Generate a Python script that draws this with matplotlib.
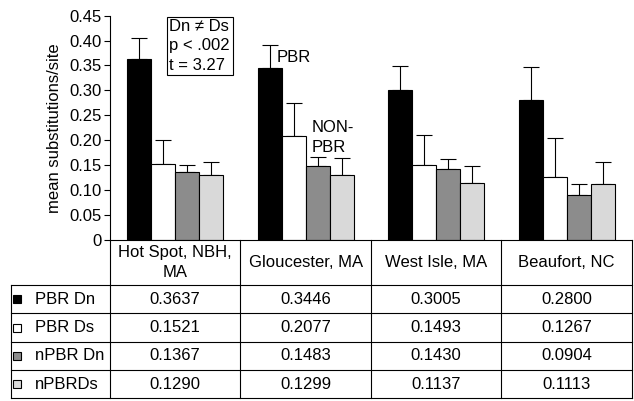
import matplotlib
matplotlib.use('Agg')
import matplotlib.pyplot as plt
import numpy as np
from matplotlib.ticker import FuncFormatter

plt.rcParams['font.family'] = ['Liberation Sans', 'DejaVu Sans']

# sites and series
sites = ['Hot Spot, NBH,\nMA', 'Gloucester, MA', 'West Isle, MA', 'Beaufort, NC']
series = ['PBR Dn', 'PBR Ds', 'nPBR Dn', 'nPBRDs']
pbr_dn = [0.3637, 0.3446, 0.3005, 0.2800]
pbr_ds = [0.1521, 0.2077, 0.1493, 0.1267]
npbr_dn = [0.1367, 0.1483, 0.1430, 0.0904]
npbr_ds = [0.1290, 0.1299, 0.1137, 0.1113]
# upper error bars
err_pbr_dn = [0.042, 0.047, 0.049, 0.066]
err_pbr_ds = [0.049, 0.066, 0.062, 0.077]
err_npbr_dn = [0.014, 0.017, 0.020, 0.021]
err_npbr_ds = [0.028, 0.034, 0.035, 0.045]

values = [pbr_dn, pbr_ds, npbr_dn, npbr_ds]
errors = [err_pbr_dn, err_pbr_ds, err_npbr_dn, err_npbr_ds]
colors = ['black', 'white', '#8c8c8c', '#d9d9d9']

W, H = 634, 401
fig = plt.figure(figsize=(W / 100, H / 100), dpi=100)

# bar axes
ax_l, ax_r, ax_b, ax_t = 110, 632, 239.7, 15.7
ax = fig.add_axes([ax_l / W, 1 - ax_b / H, (ax_r - ax_l) / W, (ax_b - ax_t) / H])
x = np.arange(len(sites))
w = 0.184
for i, (vals, errs, c) in enumerate(zip(values, errors, colors)):
    pos = x + (i - 1.5) * w
    ax.bar(pos, vals, width=w, color=c, edgecolor='black', linewidth=0.8, zorder=2)
    ax.errorbar(pos, vals, yerr=[np.zeros(len(errs)), errs], fmt='none',
                ecolor='black', elinewidth=0.8, capsize=6, capthick=0.8, zorder=1)

ax.set_xlim(-0.5, 3.5)
ax.set_ylim(0, 0.45)
ax.set_yticks(np.arange(0, 0.451, 0.05))
ax.yaxis.set_major_formatter(FuncFormatter(lambda v, p: '0' if v == 0 else '%.2f' % v))
ax.set_xticks([])
ax.tick_params(axis='y', labelsize=12, length=4, width=0.8, pad=2)
ax.spines['top'].set_visible(False)
ax.spines['right'].set_visible(False)
ax.spines['left'].set_linewidth(0.8)
ax.spines['bottom'].set_linewidth(0.8)
ax.set_ylabel('mean substitutions/site', fontsize=12, labelpad=5)

# annotations
ax.text(-0.045, 0.443, 'Dn \u2260 Ds\np < .002\nt = 3.27', fontsize=12, va='top', ha='left',
        linespacing=1.35, bbox=dict(boxstyle='square,pad=0.15', fc='white', ec='black', lw=0.8))
ax.text(0.78, 0.367, 'PBR', fontsize=12, va='center', ha='left')
ax.text(1.048, 0.206, 'NON-\nPBR', fontsize=12, va='center', ha='left', linespacing=1.4)

# table below
tb_l, tb_b = 10.7, 398.3
tab = fig.add_axes([tb_l / W, 1 - tb_b / H, (ax_r - tb_l) / W, (tb_b - ax_b) / H])
left = -0.5 - (ax_l - tb_l) / ((ax_r - ax_l) / 4)
hdr = 45.5 / 28.3
nrows = len(series)
tab.set_xlim(left, 3.5)
tab.set_ylim(hdr + nrows, 0)
tab.axis('off')

lk = dict(color='black', linewidth=0.8, clip_on=False)
# vertical lines
for xv in np.arange(-0.5, 3.6, 1.0):
    tab.plot([xv, xv], [0, hdr + nrows], **lk)
tab.plot([left, left], [hdr, hdr + nrows], **lk)
# horizontal lines
for r in range(nrows + 1):
    tab.plot([left, 3.5], [hdr + r, hdr + r], **lk)

# header text
for j, s in enumerate(sites):
    tab.text(j, hdr / 2, s, ha='center', va='center', fontsize=12, linespacing=1.35)

# rows
for r, (name, vals, c) in enumerate(zip(series, values, colors)):
    yc = hdr + r + 0.5
    tab.plot([left + 0.046], [yc], marker='s', markersize=6, markerfacecolor=c,
             markeredgecolor='black', markeredgewidth=0.8, clip_on=False)
    tab.text(left + 0.186, yc, name, ha='left', va='center', fontsize=12)
    for j, v in enumerate(vals):
        tab.text(j, yc, '%.4f' % v, ha='center', va='center', fontsize=12)

plt.savefig('out.png', dpi=100)
